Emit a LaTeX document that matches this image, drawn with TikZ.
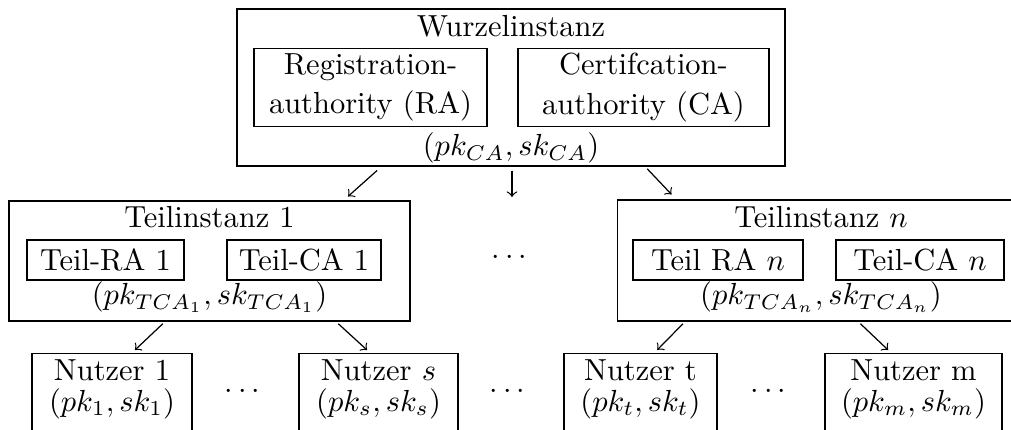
\documentclass[tikz,border=0pt]{standalone}
\usepackage{amsmath}

\begin{document}
\begin{tikzpicture}[x=0.328pt, y=-0.328pt, >=to,
  box/.style={draw, inner sep=0pt},
  txt/.style={anchor=base, inner sep=0pt},
  user/.style={draw, anchor=north, align=center, inner xsep=0pt, inner ysep=2pt,
    execute at end node={\rule[-20pt]{0pt}{0pt}}}]

\useasboundingbox (0,0) rectangle (1011,430);
\clip (0,0) rectangle (1011,430);

% Root instance with RA and CA
\node[box, minimum width=179.7pt, minimum height=51.5pt] (root) at (511,87.5) {};
\node[txt] (rootname) at (511,37) {Wurzelinstanz};
\node[box, align=center, minimum width=76.4pt, minimum height=25.6pt] (ra) at (370.5,87.5) {Registration-\\[1pt]authority (RA)};
\node[box, align=center, minimum width=82.3pt, minimum height=25.6pt] (ca) at (643.5,87.5) {Certifcation-\\[1pt]authority (CA)};
\node[txt] (rootkey) at (511,156) {$(pk_{CA},sk_{CA})$};

% Sub instance 1
\node[box, minimum width=131.5pt, minimum height=39.4pt] (t1) at (209.5,261) {};
\node[txt] (t1name) at (209.5,228) {Teilinstanz 1};
\node[box, minimum width=51.5pt, minimum height=13.1pt] (t1ra) at (105.5,260) {Teil-RA 1};
\node[box, minimum width=50.5pt, minimum height=13.1pt] (t1ca) at (304,260) {Teil-CA 1};
\node[txt] (t1key) at (209.5,305) {$(pk_{TCA_1},sk_{TCA_1})$};

% Sub instance n (runs past the right edge)
\node[box, minimum width=150pt, minimum height=39.7pt] (tn) at (846,260.5) {};
\node[txt] (tnname) at (821,228) {Teilinstanz $n$};
\node[box, minimum width=55.8pt, minimum height=13.1pt] (tnra) at (718,260) {Teil RA $n$};
\node[box, minimum width=55.1pt, minimum height=13.1pt] (tnca) at (920,260) {Teil-CA $n$};
\node[txt] (tnkey) at (821,305) {$(pk_{TCA_n},sk_{TCA_n})$};

% Dots between the instances
\node (mdots) at (512,258) {$\cdots$};
\node (udots1) at (245,392) {$\cdots$};
\node (udots2) at (510,392) {$\cdots$};
\node (udots3) at (771,392) {$\cdots$};

% Users
\node[user, minimum width=52.5pt] (u1) at (112,353) {Nutzer 1\\[-2pt]$(pk_1,sk_1)$};
\node[user, minimum width=52.2pt] (us) at (378.5,353) {Nutzer $s$\\[-2pt]$(pk_s,sk_s)$};
\node[user, minimum width=50.2pt] (ut) at (640.5,353) {Nutzer t\\[-2pt]$(pk_t,sk_t)$};
\node[user, minimum width=58.1pt] (um) at (913.5,353) {Nutzer m\\[-2pt]$(pk_m,sk_m)$};

% Draw the arrows
\coordinate (mid) at (512,197);
\draw [->, shorten <=1.9pt, shorten >=1.9pt] ([xshift=-42.5pt]root.south) -- ([xshift=44pt]t1.north);
\draw [->, shorten <=1.3pt] (root.south -| mid) -- (mid);
\draw [->, shorten <=1pt, shorten >=2.2pt] ([xshift=44pt]root.south) -- ([xshift=-55.7pt]tn.north);

\draw [->, shorten <=1pt, shorten >=1.4pt] ([xshift=-14.6pt]t1.south) -- ([xshift=6.5pt]u1.north);
\draw [->, shorten <=1pt, shorten >=1.4pt] ([xshift=41.5pt]t1.south) -- ([xshift=-2.7pt]us.north);
\draw [->, shorten <=1pt, shorten >=1.4pt] ([xshift=-52.8pt]tn.south) -- ([xshift=4.5pt]ut.north);
\draw [->, shorten <=1pt, shorten >=1.4pt] ([xshift=4pt]tn.south) -- ([xshift=-7.3pt]um.north);

\end{tikzpicture}
\end{document}
